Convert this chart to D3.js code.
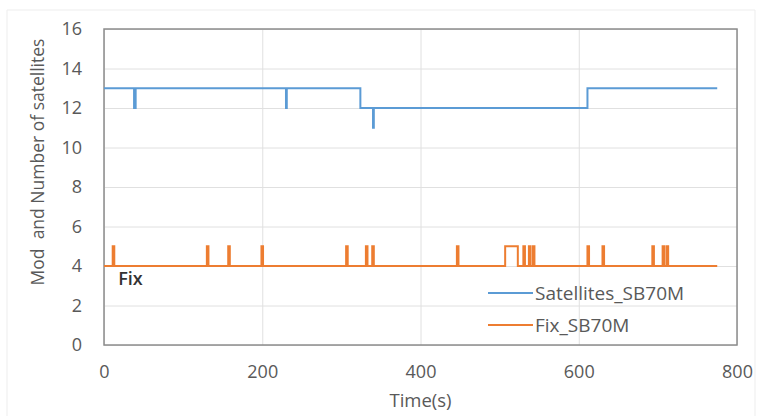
<!DOCTYPE html>
<html>
<head>
<meta charset="utf-8">
<script src="https://cdn.jsdelivr.net/npm/d3@7"></script>
<style>
  body { margin: 0; background: #fff; }
  text { font-family: "Open Sans", "DejaVu Sans", sans-serif; }
</style>
</head>
<body>
<div id="chart"></div>
<script>
// step series, time (s) where value changes and value from that time on
let sat_time  = [0, 38, 40, 230, 231, 324, 340, 341, 611, 775];
let sat_value = [13, 12, 13, 12, 13, 12, 11, 12, 13, 13];

let fix_time  = [0, 11, 13, 130, 132, 157, 159, 199, 201, 306, 308, 331, 333, 339, 341,
                 446, 448, 507, 523, 530, 532, 537, 539, 542, 544, 611, 613, 630, 632,
                 693, 695, 706, 708, 711, 713, 775];
let fix_value = [4, 5, 4, 5, 4, 5, 4, 5, 4, 5, 4, 5, 4, 5, 4,
                 5, 4, 5, 4, 5, 4, 5, 4, 5, 4, 5, 4, 5, 4,
                 5, 4, 5, 4, 5, 4, 4];

let y_ticks = [0, 2, 4, 6, 8, 10, 12, 14, 16];
let x_ticks = [0, 200, 400, 600, 800];

let series_names = ["Satellites_SB70M", "Fix_SB70M"];
let colors = {"Satellites_SB70M": "#5b9bd5", "Fix_SB70M": "#ed7d31"};

let width_chart = 762, height_chart = 416;
let margin = {top: 29, bottom: 71, left: 104, right: 25};

let svg = d3.select("#chart")
    .append("svg")
    .attr("width", width_chart)
    .attr("height", height_chart);

// faint chart area border (bottom edge runs off the picture)
svg.append("path")
    .attr("d", "M7,416 V10 H755 V416")
    .attr("fill", "none")
    .attr("stroke", "#ededed");

let xScale = d3.scaleLinear().domain([0, 800]).range([margin.left, width_chart - margin.right]);
let yScale = d3.scaleLinear().domain([0, 16]).range([height_chart - margin.bottom, margin.top]);

// grid
svg.append("g")
    .attr("class", "yGrid")
    .attr("transform", "translate(" + margin.left + ",0)")
    .call(d3.axisLeft(yScale).tickValues(y_ticks).tickSize(-(width_chart - margin.left - margin.right)).tickFormat(""))
    .call(g => g.select(".domain").remove())
    .selectAll("line").attr("stroke", "#e0e0e0");

svg.append("g")
    .attr("class", "xGrid")
    .attr("transform", "translate(0," + (height_chart - margin.bottom) + ")")
    .call(d3.axisBottom(xScale).tickValues(x_ticks).tickSize(-(height_chart - margin.top - margin.bottom)).tickFormat(""))
    .call(g => g.select(".domain").remove())
    .selectAll("line").attr("stroke", "#e0e0e0");

// tick labels
let yAxis = svg.append("g")
    .attr("class", "yTicks")
    .attr("transform", "translate(" + margin.left + ",0)")
    .call(d3.axisLeft(yScale).tickValues(y_ticks).tickSize(0).tickPadding(22));
yAxis.select(".domain").remove();
yAxis.selectAll("text").attr("font-size", 18).attr("fill", "#595959")
    .attr("font-family", "'Open Sans', sans-serif");

let xAxis = svg.append("g")
    .attr("class", "xTicks")
    .attr("transform", "translate(0," + (height_chart - margin.bottom) + ")")
    .call(d3.axisBottom(xScale).tickValues(x_ticks).tickSize(0).tickPadding(20));
xAxis.select(".domain").remove();
xAxis.selectAll("text").attr("font-size", 18).attr("fill", "#595959")
    .attr("font-family", "'Open Sans', sans-serif");

// plot area border
svg.append("rect")
    .attr("x", margin.left).attr("y", margin.top)
    .attr("width", width_chart - margin.left - margin.right)
    .attr("height", height_chart - margin.top - margin.bottom)
    .attr("fill", "none")
    .attr("stroke", "#8c8c8c")
    .attr("stroke-width", 1.5);

// lines
let line = d3.line()
    .x(d => xScale(d.t))
    .y(d => yScale(d.v))
    .curve(d3.curveStepAfter);

let sat_data = sat_time.map((t, i) => ({t: t, v: sat_value[i]}));
let fix_data = fix_time.map((t, i) => ({t: t, v: fix_value[i]}));

svg.append("path")
    .datum(fix_data)
    .attr("d", line)
    .attr("fill", "none")
    .attr("stroke", colors["Fix_SB70M"])
    .attr("stroke-width", 2);

svg.append("path")
    .datum(sat_data)
    .attr("d", line)
    .attr("fill", "none")
    .attr("stroke", colors["Satellites_SB70M"])
    .attr("stroke-width", 2);

// "Fix" annotation
svg.append("text")
    .attr("x", xScale(18)).attr("y", yScale(3.05))
    .attr("font-size", 18).attr("font-weight", 600)
    .attr("fill", "#333")
    .text("Fix");

// legend
let legend = svg.append("g").attr("class", "legend");
series_names.forEach((name, i) => {
    let ly = 293 + i * 32;
    legend.append("line")
        .attr("x1", 488).attr("x2", 533)
        .attr("y1", ly).attr("y2", ly)
        .attr("stroke", colors[name]).attr("stroke-width", 2);
    legend.append("text")
        .attr("x", 535).attr("y", ly)
        .attr("dy", "0.35em")
        .attr("font-size", 19).attr("fill", "#595959")
        .text(name);
});

// axis titles
svg.append("text")
    .attr("x", (margin.left + width_chart - margin.right) / 2)
    .attr("y", 401).attr("dy", "0.35em")
    .attr("text-anchor", "middle")
    .attr("font-size", 18.5).attr("fill", "#595959")
    .text("Time(s)");

svg.append("text")
    .attr("transform", "translate(38,162) rotate(-90)")
    .attr("text-anchor", "middle")
    .attr("dy", "0.35em")
    .attr("font-size", 17.5).attr("fill", "#595959")
    .attr("xml:space", "preserve")
    .text("Mod  and Number of satellites");
</script>
</body>
</html>
